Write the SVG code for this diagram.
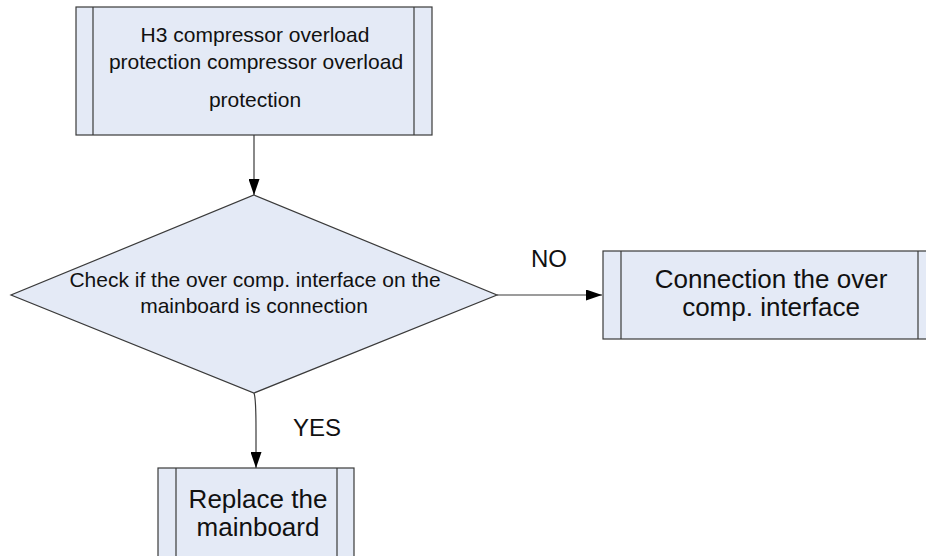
<svg xmlns="http://www.w3.org/2000/svg" width="926" height="556" viewBox="0 0 926 556">
<style>
.box{fill:#e4eaf6;stroke:#3a3a3a;stroke-width:1.2}
.ln{fill:none;stroke:#3a3a3a;stroke-width:1.2}
.conn{fill:none;stroke:#3a3a3a;stroke-width:1.2}
text{font-family:"Liberation Sans",Arial,sans-serif;fill:#111;text-anchor:middle}
.t20{font-size:21px}
.t26{font-size:26px}
.lbl{font-size:24px}
</style>
<defs>
<marker id="arr" viewBox="0 0 16 11" refX="16" refY="5.5" markerWidth="16" markerHeight="11" markerUnits="userSpaceOnUse" orient="auto">
<path d="M0,0 L16,5.5 L0,11 Z" fill="#000"/>
</marker>
</defs>
<g id="connectors">
<path class="conn" d="M254,135 L254,195" marker-end="url(#arr)"/>
<path class="conn" d="M497,295 L602,295" marker-end="url(#arr)"/>
<path class="conn" d="M254,393 C256,398 256,410 256,430 L256,468" marker-end="url(#arr)"/>
</g>
<g id="start">
<rect class="box" x="76" y="7" width="356" height="128"/>
<line class="ln" x1="93" y1="7" x2="93" y2="135"/>
<line class="ln" x1="414" y1="7" x2="414" y2="135"/>
<text class="t20" x="255" y="42">H3 compressor overload</text>
<text class="t20" x="256" y="69">protection compressor overload</text>
<text class="t20" x="255" y="107">protection</text>
</g>
<g id="check">
<polygon class="box" points="254,195 497,295 254,393 11,295"/>
<text class="t20" x="255" y="287">Check if the over comp. interface on the</text>
<text class="t20" x="254" y="313">mainboard is connection</text>
</g>
<g id="connect">
<rect class="box" x="603" y="251" width="340" height="88"/>
<line class="ln" x1="621" y1="251" x2="621" y2="339"/>
<line class="ln" x1="918" y1="251" x2="918" y2="339"/>
<text class="t26" x="771" y="288">Connection the over</text>
<text class="t26" x="771" y="316">comp. interface</text>
</g>
<g id="replace">
<rect class="box" x="158" y="468" width="196" height="100"/>
<line class="ln" x1="176" y1="468" x2="176" y2="568"/>
<line class="ln" x1="337" y1="468" x2="337" y2="568"/>
<text class="t26" x="258" y="508">Replace the</text>
<text class="t26" x="258" y="536">mainboard</text>
</g>
<g id="labels">
<text class="lbl" x="549" y="267">NO</text>
<text class="lbl" x="317" y="436">YES</text>
</g>
</svg>
